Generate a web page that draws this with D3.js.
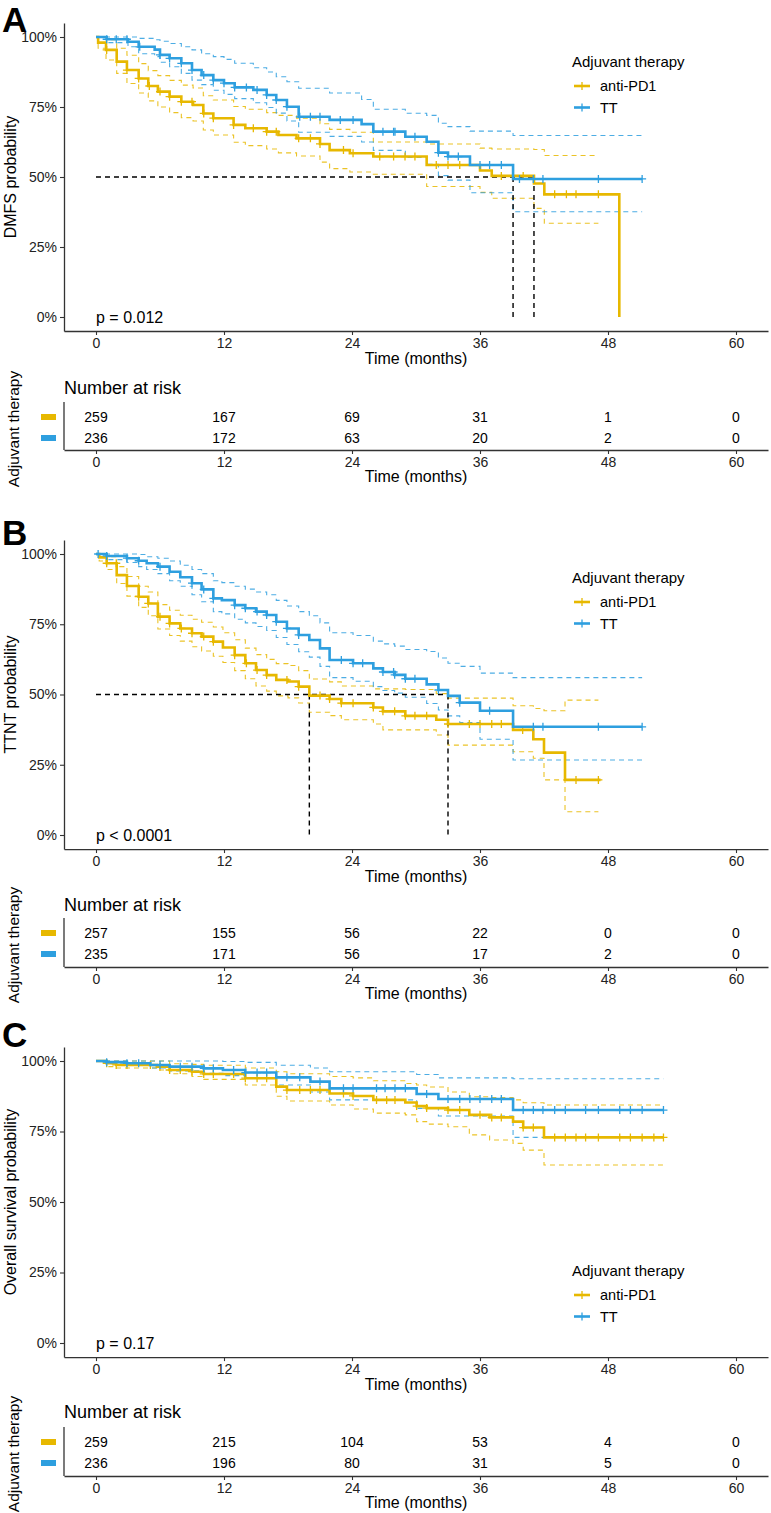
<!DOCTYPE html>
<html><head><meta charset="utf-8">
<script src="https://cdn.jsdelivr.net/npm/d3@7"></script>
<style>
html,body{margin:0;padding:0;background:#fff;}
text{font-family:Arial,"Liberation Sans",Helvetica,sans-serif;}
</style></head>
<body><svg id="c" width="771" height="1513"></svg>
<script>
// ---------- shared categories / ticks ----------
const GROUPS = ["anti-PD1", "TT"];
const COLORS = ["#E7B800", "#2E9FDF"];
const X_TICKS = [0, 12, 24, 36, 48, 60];
const Y_TICKS = [0, 0.25, 0.5, 0.75, 1];
const Y_TICK_LABELS = ["0%", "25%", "50%", "75%", "100%"];
const LEGEND_TITLE = "Adjuvant therapy";
const X_TITLE = "Time (months)";
const RISK_TITLE = "Number at risk";

// ---------- Panel A : DMFS ----------
const A_anti_time  = [0, 0.2, 0.94, 1.94, 2.9, 4.0, 4.9, 5.8, 6.9, 8.0, 9.1, 10.06, 11, 12.9, 14, 16, 17.1, 18.8, 21, 21.9, 23.8, 26, 31, 36, 37.1, 41.06, 42.03, 49.06];
const A_anti_surv  = [1, 0.98, 0.954, 0.912, 0.882, 0.852, 0.825, 0.805, 0.787, 0.769, 0.757, 0.727, 0.71, 0.686, 0.674, 0.662, 0.65, 0.638, 0.618, 0.596, 0.585, 0.573, 0.543, 0.523, 0.504, 0.477, 0.438, 0];
const A_anti_upper = [1, 1, 0.99, 0.96, 0.935, 0.905, 0.88, 0.862, 0.845, 0.828, 0.818, 0.79, 0.775, 0.752, 0.742, 0.73, 0.72, 0.71, 0.69, 0.67, 0.66, 0.625, 0.618, 0.603, 0.6, 0.598, 0.577, null];
const A_anti_lower = [1, 0.96, 0.918, 0.87, 0.834, 0.8, 0.772, 0.75, 0.73, 0.712, 0.7, 0.668, 0.65, 0.624, 0.612, 0.6, 0.586, 0.575, 0.553, 0.53, 0.518, 0.51, 0.466, 0.445, 0.424, 0.388, 0.335, null];
const A_anti_censor = [1, 2.9, 4, 5, 6, 6.9, 8, 9, 10.1, 11, 12.9, 14.75, 16, 16.9, 19, 20.1, 21, 23.2, 24.1, 26.6, 27.9, 28.97, 29.9, 31.9, 33, 34.1, 38, 40.05, 43, 44.1, 45, 47.1];
const A_anti_end = 49.06, A_anti_ciEnd = 47.1;

const A_tt_time  = [0, 1, 3, 4, 5.5, 6, 6.9, 8, 9, 9.9, 11, 12, 13, 14.75, 16, 16.9, 17.9, 19, 21.9, 24.9, 26, 29, 31, 32.1, 33, 35.06, 39.1];
const A_tt_surv  = [1, 0.992, 0.983, 0.965, 0.955, 0.936, 0.924, 0.906, 0.882, 0.864, 0.846, 0.835, 0.82, 0.811, 0.793, 0.775, 0.751, 0.715, 0.704, 0.689, 0.662, 0.644, 0.626, 0.587, 0.573, 0.543, 0.493];
const A_tt_upper = [1, 1, 1, 0.995, 0.99, 0.985, 0.977, 0.965, 0.954, 0.94, 0.93, 0.92, 0.906, 0.89, 0.875, 0.858, 0.84, 0.817, 0.8, 0.777, 0.742, 0.7275, 0.72, 0.692, 0.68, 0.664, 0.648];
const A_tt_lower = [1, 0.98, 0.965, 0.94, 0.93, 0.91, 0.894, 0.87, 0.846, 0.83, 0.81, 0.795, 0.78, 0.765, 0.748, 0.728, 0.7, 0.66, 0.645, 0.625, 0.595, 0.57, 0.545, 0.505, 0.489, 0.444, 0.376];
const A_tt_censor = [1, 1.9, 2.9, 4.1, 6, 6.9, 8, 9, 10.1, 11, 12, 13, 14.1, 15.1, 16, 16.9, 17.9, 19.1, 20.1, 21, 22.9, 24.1, 26.9, 27.9, 28.03, 29.9, 32.1, 33, 33.97, 36, 36.9, 38, 39.7, 41, 41.9, 47.1, 51.2];
const A_tt_end = 51.2, A_tt_ciEnd = 51.2;

const A_risk_anti = [259, 167, 69, 31, 1, 0];
const A_risk_tt   = [236, 172, 63, 20, 2, 0];
const A_medians = [39.1, 41.06];
const A_pvalue = "p = 0.012";
const A_ytitle = "DMFS probability";

// ---------- Panel B : TTNT ----------
const B_anti_time  = [0, 0.3, 1, 1.94, 2.9, 4, 4.9, 5.8, 6.9, 7.9, 9, 9.9, 11, 11.9, 13, 14, 15, 16, 16.9, 18, 19, 20, 21.9, 23, 26, 26.9, 29, 31.9, 33, 39.1, 41, 42, 43.97];
const B_anti_surv  = [1, 0.988, 0.967, 0.925, 0.886, 0.848, 0.824, 0.777, 0.753, 0.735, 0.718, 0.706, 0.688, 0.667, 0.64, 0.611, 0.587, 0.569, 0.552, 0.546, 0.528, 0.496, 0.484, 0.469, 0.454, 0.44, 0.424, 0.41, 0.395, 0.374, 0.341, 0.293, 0.196];
const B_anti_upper = [1, 1, 0.99, 0.955, 0.92, 0.885, 0.865, 0.82, 0.8, 0.782, 0.768, 0.757, 0.74, 0.72, 0.695, 0.665, 0.642, 0.625, 0.61, 0.603, 0.585, 0.555, 0.545, 0.53, 0.52, 0.52, 0.518, 0.503, 0.487, 0.46, 0.45, 0.442, 0.48];
const B_anti_lower = [1, 0.975, 0.945, 0.895, 0.85, 0.81, 0.78, 0.733, 0.71, 0.69, 0.67, 0.655, 0.636, 0.614, 0.585, 0.556, 0.53, 0.512, 0.495, 0.488, 0.47, 0.437, 0.425, 0.41, 0.395, 0.374, 0.374, 0.356, 0.32, 0.296, 0.273, 0.196, 0.083];
const B_anti_censor = [1, 1.9, 4, 4.9, 6, 6.9, 8, 9, 10.1, 11, 13, 14.1, 15.1, 16, 17.9, 19, 21, 21.9, 23, 24.1, 26, 26.9, 28, 29, 29.9, 31, 33, 35, 36, 37.1, 38, 40, 45, 47.1];
const B_anti_end = 47.3, B_anti_ciEnd = 47.1;

const B_tt_time  = [0, 1, 2.9, 4, 4.75, 5.8, 6.9, 7.9, 9, 9.9, 11, 11.8, 13, 14, 15, 16, 16.9, 17.9, 19, 20, 21, 21.9, 24.1, 26, 26.9, 28, 29, 31, 32.1, 33, 34.1, 36, 39.1];
const B_tt_surv  = [1, 0.993, 0.985, 0.976, 0.967, 0.955, 0.937, 0.917, 0.896, 0.874, 0.842, 0.836, 0.818, 0.807, 0.795, 0.783, 0.759, 0.735, 0.712, 0.694, 0.664, 0.623, 0.611, 0.593, 0.58, 0.57, 0.556, 0.536, 0.516, 0.495, 0.471, 0.442, 0.385];
const B_tt_upper = [1, 1, 1, 0.998, 0.99, 0.985, 0.975, 0.96, 0.945, 0.93, 0.905, 0.898, 0.885, 0.875, 0.865, 0.855, 0.835, 0.815, 0.795, 0.78, 0.755, 0.72, 0.71, 0.69, 0.68, 0.672, 0.66, 0.653, 0.63, 0.611, 0.6, 0.576, 0.56];
const B_tt_lower = [1, 0.98, 0.97, 0.955, 0.945, 0.93, 0.905, 0.885, 0.855, 0.83, 0.795, 0.787, 0.768, 0.755, 0.742, 0.728, 0.703, 0.678, 0.652, 0.633, 0.6, 0.56, 0.547, 0.528, 0.514, 0.505, 0.49, 0.468, 0.445, 0.424, 0.4, 0.341, 0.267];
const B_tt_censor = [0.2, 1, 2.9, 4, 6, 9, 10.1, 11, 13, 14, 15.1, 16, 16.9, 17.9, 19, 23, 24.1, 25, 26.9, 27.9, 28, 29, 29.9, 32.1, 34.1, 36.9, 41, 41.9, 47.1, 51.2];
const B_tt_end = 51.2, B_tt_ciEnd = 51.2;

const B_risk_anti = [257, 155, 56, 22, 0, 0];
const B_risk_tt   = [235, 171, 56, 17, 2, 0];
const B_medians = [20, 33];
const B_pvalue = "p < 0.0001";
const B_ytitle = "TTNT probability";

// ---------- Panel C : Overall survival ----------
const C_anti_time  = [0, 1, 1.9, 5.7, 6.9, 9, 10.1, 14, 16.9, 17.9, 21.9, 24.1, 26, 29, 30.06, 31, 33, 35, 36.9, 39.1, 40.05, 42];
const C_anti_surv  = [1, 0.992, 0.986, 0.98, 0.968, 0.962, 0.954, 0.939, 0.909, 0.897, 0.885, 0.876, 0.862, 0.853, 0.84, 0.833, 0.826, 0.809, 0.8, 0.785, 0.764, 0.729];
const C_anti_upper = [1, 1, 1, 1, 0.99, 0.988, 0.985, 0.975, 0.962, 0.955, 0.945, 0.94, 0.93, 0.92, 0.915, 0.908, 0.89, 0.873, 0.87, 0.862, 0.852, 0.844];
const C_anti_lower = [1, 0.98, 0.975, 0.968, 0.955, 0.945, 0.935, 0.915, 0.875, 0.858, 0.844, 0.83, 0.815, 0.809, 0.785, 0.776, 0.767, 0.738, 0.72, 0.708, 0.684, 0.631];
const C_anti_censor = [1, 1.9, 2.9, 5.1, 6, 6.9, 7.9, 9, 10.1, 11, 12.9, 14, 15.1, 16, 17.9, 19.1, 20.1, 21, 23.2, 24.1, 26.3, 27.25, 28.03, 30.06, 31, 33, 34.1, 36, 37.1, 38, 40.05, 41, 43, 44, 45, 45.9, 47.1, 49.1, 50.1, 51.2, 52.3, 53.2];
const C_anti_end = 53.2, C_anti_ciEnd = 53.2;

const C_tt_time  = [0, 1, 2.9, 5.1, 6.9, 10.1, 11.9, 14, 16.9, 20.1, 21.9, 30.06, 32.1, 39.1];
const C_tt_surv  = [1, 0.996, 0.992, 0.986, 0.98, 0.974, 0.968, 0.959, 0.942, 0.927, 0.903, 0.883, 0.865, 0.826];
const C_tt_upper = [1, 1, 1, 1, 1, 1, 0.998, 0.995, 0.985, 0.975, 0.962, 0.952, 0.94, 0.937];
const C_tt_lower = [1, 0.99, 0.985, 0.975, 0.965, 0.956, 0.948, 0.938, 0.915, 0.89, 0.862, 0.832, 0.805, 0.729];
const C_tt_censor = [1, 2.9, 4, 6, 7.9, 9, 10.1, 11, 12.9, 14, 15.1, 16, 17.9, 19.1, 21, 23.2, 24.1, 26.3, 27.1, 28.03, 29, 31, 33, 34.1, 35.05, 36, 37.1, 38, 40.05, 41, 41.9, 43, 44, 45.9, 47.1, 49.1, 50.1, 51.2, 53.2];
const C_tt_end = 53.2, C_tt_ciEnd = 53.2;

const C_risk_anti = [259, 215, 104, 53, 4, 0];
const C_risk_tt   = [236, 196, 80, 31, 5, 0];
const C_medians = [];
const C_pvalue = "p = 0.17";
const C_ytitle = "Overall survival probability";

// ---------- build ----------
const svg = d3.select("#c");
const FONT = 'Arial,"Liberation Sans",Helvetica,sans-serif';

function stepPts(time, vals, end) {
  const pts = [];
  let last = null;
  for (let i = 0; i < time.length; i++) {
    if (vals[i] === null || vals[i] === undefined) continue;
    pts.push([time[i], vals[i]]);
    last = vals[i];
  }
  pts.push([end, last]);
  return pts;
}
function survAt(time, surv, t) {
  let v = surv[0];
  for (let i = 0; i < time.length; i++) { if (time[i] <= t) v = surv[i]; }
  return v;
}

function drawPanel(cfg) {
  const g = svg.append("g");
  const x = d3.scaleLinear().domain([-3, 63]).range([64, 768]);
  const y = d3.scaleLinear().domain([0, 1]).range([cfg.y0, cfg.y100]);
  const yBot = y(-0.05), yTop = y(1.05);
  const line = d3.line().x(d => x(d[0])).y(d => y(d[1])).curve(d3.curveStepAfter);

  // CI dashed
  cfg.curves.forEach((c, i) => {
    [c.upper, c.lower].forEach(b => {
      g.append("path").attr("d", line(stepPts(c.time, b, c.ciEnd)))
        .attr("fill", "none").attr("stroke", COLORS[i]).attr("stroke-width", 1.1)
        .attr("stroke-dasharray", "5,4").attr("opacity", 0.85);
    });
  });
  // median lines
  if (cfg.medians.length) {
    const mx = d3.max(cfg.medians);
    g.append("line").attr("x1", x(0)).attr("x2", x(mx)).attr("y1", y(0.5)).attr("y2", y(0.5))
      .attr("stroke", "#000").attr("stroke-width", 1.4).attr("stroke-dasharray", "5,4");
    cfg.medians.forEach(m => {
      g.append("line").attr("x1", x(m)).attr("x2", x(m)).attr("y1", y(0.5)).attr("y2", y(0))
        .attr("stroke", "#000").attr("stroke-width", 1.4).attr("stroke-dasharray", "5,4");
    });
  }
  // survival curves + censor marks
  cfg.curves.forEach((c, i) => {
    g.append("path").attr("d", line(stepPts(c.time, c.surv, c.end)))
      .attr("fill", "none").attr("stroke", COLORS[i]).attr("stroke-width", 2.6);
    g.selectAll(null).data(c.censor).enter().append("path")
      .attr("d", t => { const px = x(t), py = y(survAt(c.time, c.surv, t));
        return `M${px-4},${py}h8M${px},${py-4}v8`; })
      .attr("stroke", COLORS[i]).attr("stroke-width", 1.3).attr("fill", "none");
  });

  // axes
  const xa = g.append("g").attr("transform", `translate(0,${yBot})`)
    .call(d3.axisBottom(x).tickValues(X_TICKS).tickSize(4).tickSizeOuter(0).tickPadding(3));
  const ya = g.append("g").attr("transform", `translate(${x(-3)},0)`)
    .call(d3.axisLeft(d3.scaleLinear().domain([-0.05, 1.05]).range([yBot, yTop]))
      .tickValues(Y_TICKS).tickFormat((d, k) => Y_TICK_LABELS[k]).tickSize(4).tickSizeOuter(0).tickPadding(3));
  [xa, ya].forEach(a => {
    a.selectAll("text").attr("font-size", 14).attr("fill", "#222").attr("font-family", FONT);
    a.selectAll("line").attr("stroke", "#333").attr("stroke-width", 1.1);
    a.select(".domain").attr("stroke", "#333").attr("stroke-width", 1.3);
  });
  g.append("text").attr("x", 416).attr("y", yBot + 33).attr("text-anchor", "middle")
    .attr("font-size", 16).text(X_TITLE);
  g.append("text").attr("transform", `translate(16,${(yBot + yTop) / 2}) rotate(-90)`)
    .attr("text-anchor", "middle").attr("font-size", 16).text(cfg.ytitle);
  // p value
  g.append("text").attr("x", x(0)).attr("y", y(0) + 6).attr("font-size", 16).text(cfg.pvalue);

  // panel letter
  g.append("text").attr("x", 2).attr("y", cfg.letterY).text(cfg.letter)
    .attr("font-size", 35).attr("font-weight", "bold").attr("fill", "#000");

  // legend
  const lg = g.append("g");
  lg.append("text").attr("x", 572).attr("y", cfg.legY + 5).attr("font-size", 15).text(LEGEND_TITLE);
  GROUPS.forEach((name, i) => {
    const ly = cfg.legY + 24 + i * 21.5;
    lg.append("line").attr("x1", 574).attr("x2", 590).attr("y1", ly).attr("y2", ly)
      .attr("stroke", COLORS[i]).attr("stroke-width", 2.6);
    lg.append("line").attr("x1", 582).attr("x2", 582).attr("y1", ly - 4).attr("y2", ly + 4)
      .attr("stroke", COLORS[i]).attr("stroke-width", 1.3);
    lg.append("text").attr("x", 600).attr("y", ly + 5).attr("font-size", 14.5).text(name);
  });

  // risk table
  const tb = cfg.tableAxis;
  g.append("text").attr("x", 64).attr("y", cfg.nrY + 6).attr("font-size", 18).text(RISK_TITLE);
  const rowsY = [cfg.row1, cfg.row2];
  cfg.risk.forEach((row, i) => {
    g.selectAll(null).data(row).enter().append("text")
      .attr("x", (d, k) => x(X_TICKS[k])).attr("y", rowsY[i] + 5)
      .attr("text-anchor", "middle").attr("font-size", 14).text(d => d);
    g.append("rect").attr("x", 41).attr("y", rowsY[i] - 3).attr("width", 15).attr("height", 6)
      .attr("fill", COLORS[i]);
  });
  const ta = g.append("g").attr("transform", `translate(0,${tb})`)
    .call(d3.axisBottom(x).tickValues(X_TICKS).tickSize(4).tickSizeOuter(0).tickPadding(3));
  ta.selectAll("text").attr("font-size", 14).attr("fill", "#222").attr("font-family", FONT);
  ta.selectAll("line").attr("stroke", "#333").attr("stroke-width", 1.1);
  ta.select(".domain").attr("stroke", "#333").attr("stroke-width", 1.3);
  g.append("line").attr("x1", 64).attr("x2", 64).attr("y1", cfg.row1 - 15).attr("y2", tb)
    .attr("stroke", "#333").attr("stroke-width", 1.3);
  g.append("text").attr("x", 416).attr("y", tb + 32).attr("text-anchor", "middle")
    .attr("font-size", 16).text(X_TITLE);
  g.append("text").attr("transform", `translate(19,${cfg.row1 + 12}) rotate(-90)`)
    .attr("text-anchor", "middle").attr("font-size", 15.5).text(LEGEND_TITLE);
}

drawPanel({
  letter: "A", letterY: 32, y100: 37, y0: 317, legY: 62,
  nrY: 388, row1: 417, row2: 438, tableAxis: 450,
  medians: A_medians, pvalue: A_pvalue, ytitle: A_ytitle,
  risk: [A_risk_anti, A_risk_tt],
  curves: [
    {time: A_anti_time, surv: A_anti_surv, upper: A_anti_upper, lower: A_anti_lower, censor: A_anti_censor, end: A_anti_end, ciEnd: A_anti_ciEnd},
    {time: A_tt_time, surv: A_tt_surv, upper: A_tt_upper, lower: A_tt_lower, censor: A_tt_censor, end: A_tt_end, ciEnd: A_tt_ciEnd}
  ]
});
drawPanel({
  letter: "B", letterY: 545, y100: 554, y0: 835, legY: 578,
  nrY: 905, row1: 933, row2: 954, tableAxis: 967,
  medians: B_medians, pvalue: B_pvalue, ytitle: B_ytitle,
  risk: [B_risk_anti, B_risk_tt],
  curves: [
    {time: B_anti_time, surv: B_anti_surv, upper: B_anti_upper, lower: B_anti_lower, censor: B_anti_censor, end: B_anti_end, ciEnd: B_anti_ciEnd},
    {time: B_tt_time, surv: B_tt_surv, upper: B_tt_upper, lower: B_tt_lower, censor: B_tt_censor, end: B_tt_end, ciEnd: B_tt_ciEnd}
  ]
});
drawPanel({
  letter: "C", letterY: 1047, y100: 1061, y0: 1343, legY: 1271,
  nrY: 1412, row1: 1442, row2: 1463, tableAxis: 1476,
  medians: C_medians, pvalue: C_pvalue, ytitle: C_ytitle,
  risk: [C_risk_anti, C_risk_tt],
  curves: [
    {time: C_anti_time, surv: C_anti_surv, upper: C_anti_upper, lower: C_anti_lower, censor: C_anti_censor, end: C_anti_end, ciEnd: C_anti_ciEnd},
    {time: C_tt_time, surv: C_tt_surv, upper: C_tt_upper, lower: C_tt_lower, censor: C_tt_censor, end: C_tt_end, ciEnd: C_tt_ciEnd}
  ]
});
</script></body></html>
